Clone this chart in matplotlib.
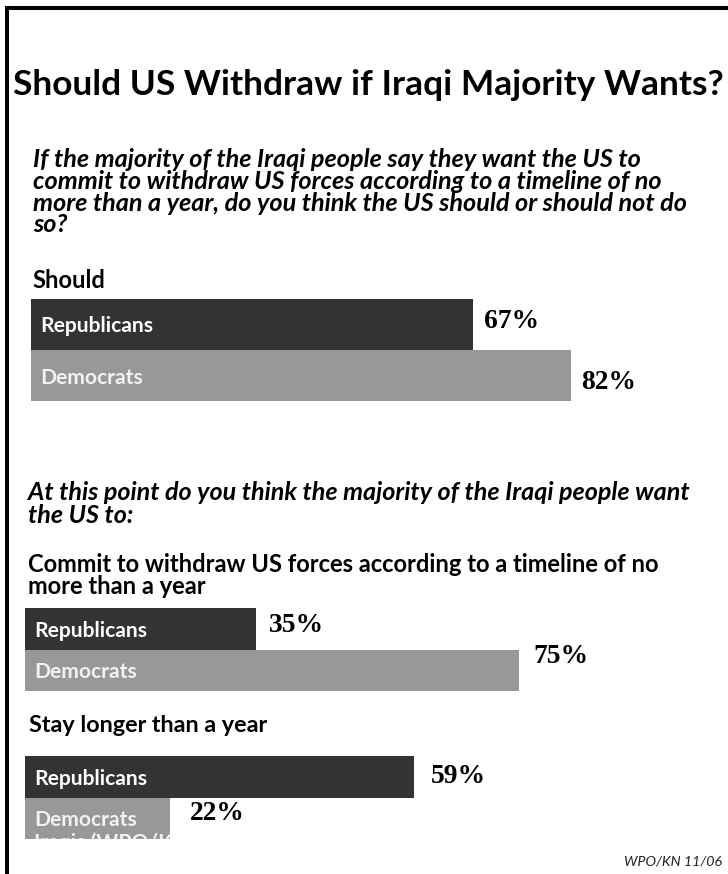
import matplotlib
matplotlib.use("Agg")
import matplotlib.pyplot as plt
from matplotlib.patches import Rectangle
from matplotlib import font_manager as fm

# ---------------- data ----------------
title = "Should US Withdraw if Iraqi Majority Wants?"
q1_lines = [
    "If the majority of the Iraqi people say they want the US to",
    "commit to withdraw US forces according to a timeline of no",
    "more than a year, do you think the US should or should not do",
    "so?",
]
q1_answer = "Should"
q2_lines = [
    "At this point do you think the majority of the Iraqi people want",
    "the US to:",
]
q2_answer1_lines = [
    "Commit to withdraw US forces according to a timeline of no",
    "more than a year",
]
q2_answer2 = "Stay longer than a year"
source = "WPO/KN 11/06"

parties = ["Republicans", "Democrats"]
should_vals = [67, 82]
commit_vals = [35, 75]
stay_vals = [59, 22]
extra_clipped_line = "Iraqis (WPO/KN)"

# ---------------- style ----------------
W, H, DPI = 728, 874, 100
DARK, LIGHT = "#333333", "#989898"
bar_colors = [DARK, LIGHT]
bar_text_colors = ["#ffffff", "#f2f2f2"]
PX_PER_PCT = 6.59


def pick(*names):
    for n in names:
        try:
            fm.findfont(fm.FontProperties(family=n), fallback_to_default=False)
            return n
        except Exception:
            pass
    return "DejaVu Sans"


SANS = pick("Lato", "Open Sans", "Noto Sans", "DejaVu Sans")
SERIF = pick("Liberation Serif", "DejaVu Serif")

fig = plt.figure(figsize=(W / DPI, H / DPI), dpi=DPI)
fig.patch.set_facecolor("white")
renderer = fig.canvas.get_renderer()


def fpos(x, y):
    return x / W, 1 - y / H


def put(x, y, s, size_px, target_w=None, **kw):
    kw.setdefault("family", SANS)
    kw.setdefault("va", "baseline")
    t = fig.text(*fpos(x, y), s, fontsize=size_px * 72 / DPI, **kw)
    if target_w:
        w = t.get_window_extent(renderer).width
        t.set_fontsize(t.get_fontsize() * target_w / w)
    return t


def put_block(x, ys, lines, size_px, target_w, **kw):
    probe = put(x, ys[0], max(lines, key=len), size_px, target_w, **kw)
    fs = probe.get_fontsize()
    probe.remove()
    for y, s in zip(ys, lines):
        t = put(x, y, s, size_px, **kw)
        t.set_fontsize(fs)


# frame (left and top rules)
fig.add_artist(Rectangle(fpos(5, 874), 4 / W, (874 - 6) / H,
                         transform=fig.transFigure, color="black", lw=0))
fig.add_artist(Rectangle(fpos(5, 10), (W - 5) / W, 4 / H,
                         transform=fig.transFigure, color="black", lw=0))

# titles and texts
put(13, 95, title, 33, target_w=709, weight="bold", color="black")
put_block(33, [167, 189, 211, 232], q1_lines, 19, 654,
          weight="bold", style="italic", color="black")
put(32, 288, q1_answer, 21, target_w=73, weight="bold", color="black")
put_block(28, [500, 523], q2_lines, 19, 660,
          weight="bold", style="italic", color="black")
put_block(28, [572, 594], q2_answer1_lines, 21, 634,
          weight="bold", color="black")
put(29, 732, q2_answer2, 21, target_w=239, weight="bold", color="black")
put(722, 865, source, 14, target_w=98, style="italic", ha="right",
    color="#222222")


def bar_group(left, top, bottom, vals, label_offsets, names=parties):
    ax = fig.add_axes([left / W, 1 - bottom / H,
                       100 * PX_PER_PCT / W, (bottom - top) / H])
    ax.set_xlim(0, 100)
    ax.set_ylim(len(vals) - 0.5, -0.5)
    ax.axis("off")
    bars = ax.barh(range(len(vals)), vals, height=1.0, color=bar_colors,
                   linewidth=0)
    for i, (name, v) in enumerate(zip(names, vals)):
        ax.annotate(name, xy=(0, i), xytext=(9, -8),
                    textcoords="offset pixels", ha="left", va="baseline",
                    fontsize=21 * 72 / DPI, weight="bold", family=SANS,
                    color=bar_text_colors[i], annotation_clip=False)
        dx, dy = label_offsets[i]
        ax.annotate(f"{v}%", xy=(v, i), xytext=(dx, -dy),
                    textcoords="offset pixels", ha="left", va="center",
                    fontsize=27.5 * 72 / DPI, weight="bold", family=SERIF,
                    color="black", annotation_clip=False)
    return ax, bars


bar_group(31, 299, 401, should_vals, [(11, -3), (10, 7)])
bar_group(25, 608, 691, commit_vals, [(13, -3), (14, -14)])
ax3, bars3 = bar_group(25, 756, 839, stay_vals, [(17, 0), (20, -5)])
t = ax3.annotate(extra_clipped_line, xy=(0, 1), xytext=(9, -31),
                 textcoords="offset pixels", ha="left", va="baseline",
                 fontsize=21 * 72 / DPI, weight="bold", family=SANS,
                 color=bar_text_colors[1], annotation_clip=False)
t.set_clip_on(True)
t.set_clip_path(bars3[1])

fig.savefig("out.png", dpi=DPI, facecolor="white")
